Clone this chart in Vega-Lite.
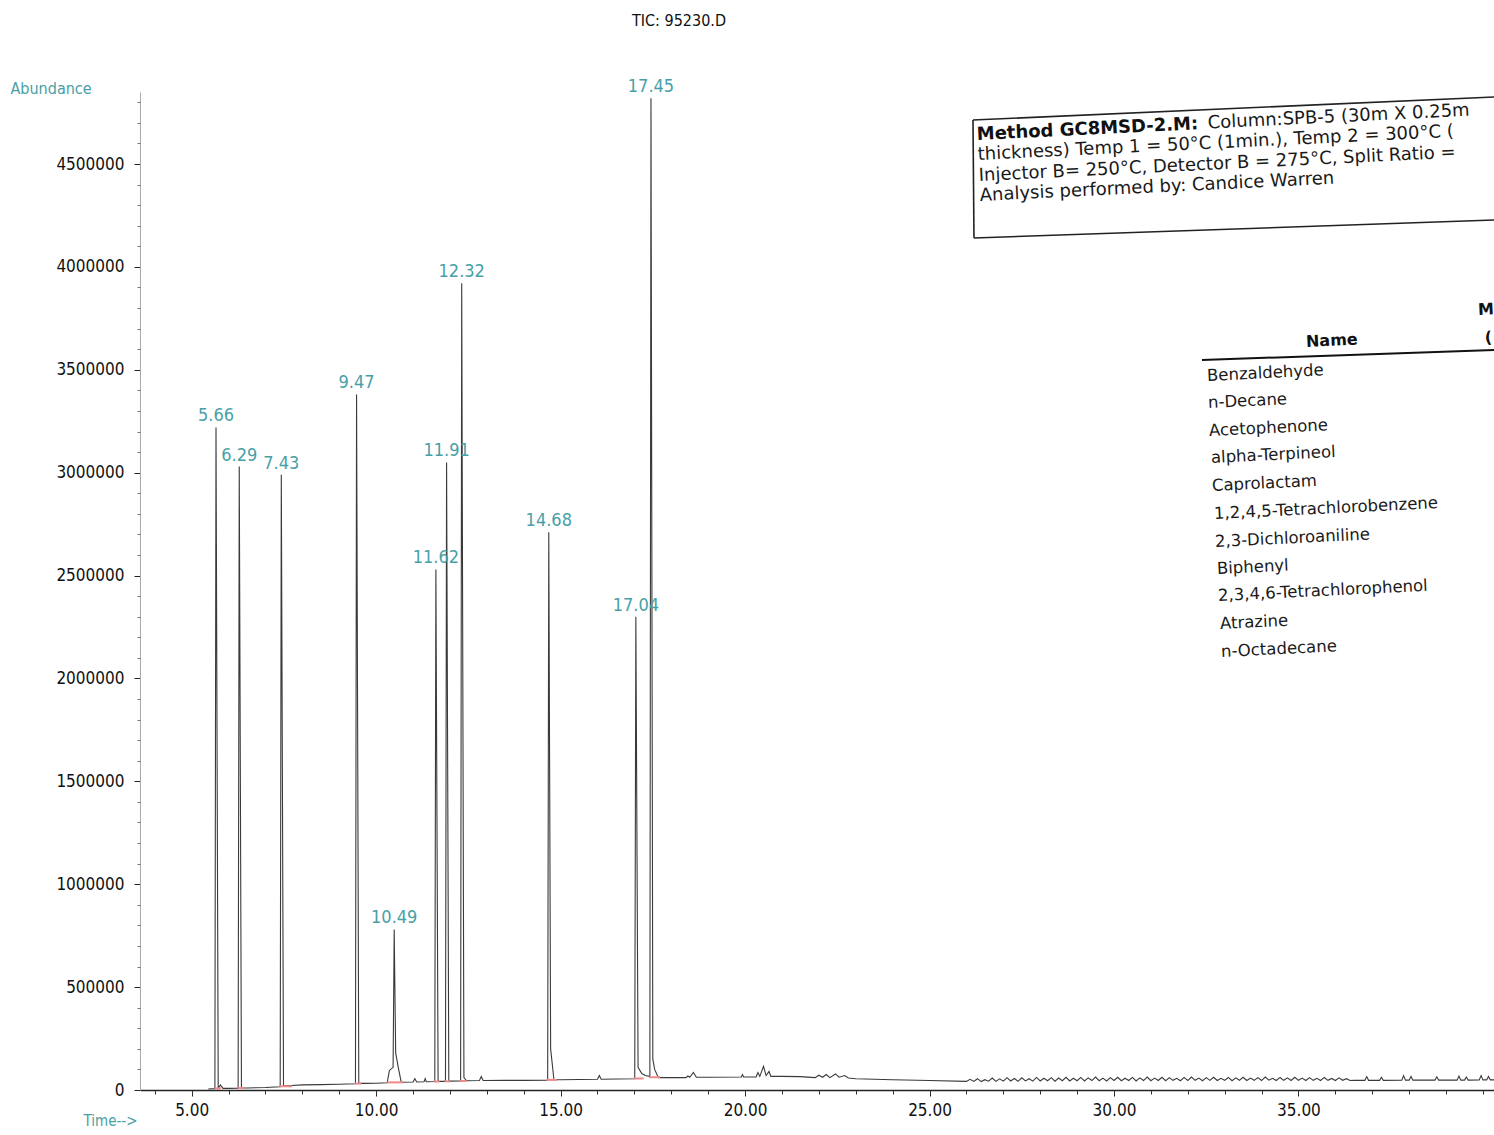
{
  "$schema": "https://vega.github.io/schema/vega-lite/v6.json",
  "autosize": {"type": "none"},
  "padding": {"left": 140, "top": 92, "right": 0, "bottom": 45},
  "width": 1354,
  "height": 998,
  "background": "white",
  "config": {"view": {"stroke": null}},
  "title": {
    "text": "TIC: 95230.D",
    "anchor": "middle",
    "dx": -138,
    "offset": 41,
    "baseline": "middle",
    "font": "DejaVu Sans Condensed, sans-serif",
    "fontSize": 16,
    "fontWeight": "normal",
    "color": "#111"
  },
  "datasets": {
    "trace": [
      {"time": 5.45, "abundance": 5000}, {"time": 5.55, "abundance": 6000}, {"time": 5.63, "abundance": 6000},
      {"time": 5.66, "abundance": 3220000}, {"time": 5.72, "abundance": 8000}, {"time": 5.78, "abundance": 25000},
      {"time": 5.85, "abundance": 8000}, {"time": 6.0, "abundance": 8000}, {"time": 6.26, "abundance": 9000},
      {"time": 6.29, "abundance": 3030000}, {"time": 6.35, "abundance": 10000}, {"time": 6.5, "abundance": 10000},
      {"time": 7.0, "abundance": 12000}, {"time": 7.4, "abundance": 16000}, {"time": 7.43, "abundance": 2990000},
      {"time": 7.49, "abundance": 20000}, {"time": 7.7, "abundance": 22000}, {"time": 8.0, "abundance": 25000},
      {"time": 8.5, "abundance": 26000}, {"time": 9.0, "abundance": 28000}, {"time": 9.44, "abundance": 30000},
      {"time": 9.47, "abundance": 3380000}, {"time": 9.53, "abundance": 32000}, {"time": 9.7, "abundance": 32000},
      {"time": 10.0, "abundance": 33000}, {"time": 10.3, "abundance": 35000}, {"time": 10.36, "abundance": 95000},
      {"time": 10.46, "abundance": 110000}, {"time": 10.49, "abundance": 780000}, {"time": 10.53, "abundance": 180000},
      {"time": 10.6, "abundance": 110000}, {"time": 10.68, "abundance": 38000}, {"time": 11.0, "abundance": 39000},
      {"time": 11.05, "abundance": 55000}, {"time": 11.1, "abundance": 39000}, {"time": 11.3, "abundance": 40000},
      {"time": 11.33, "abundance": 55000}, {"time": 11.36, "abundance": 40000}, {"time": 11.59, "abundance": 41000},
      {"time": 11.62, "abundance": 2530000}, {"time": 11.68, "abundance": 42000}, {"time": 11.88, "abundance": 42000},
      {"time": 11.91, "abundance": 3050000}, {"time": 11.97, "abundance": 43000}, {"time": 12.29, "abundance": 44000},
      {"time": 12.32, "abundance": 3920000}, {"time": 12.38, "abundance": 60000}, {"time": 12.45, "abundance": 45000},
      {"time": 12.8, "abundance": 46000}, {"time": 12.85, "abundance": 65000}, {"time": 12.9, "abundance": 46000},
      {"time": 13.5, "abundance": 47000}, {"time": 14.0, "abundance": 47000}, {"time": 14.65, "abundance": 48000},
      {"time": 14.68, "abundance": 2710000}, {"time": 14.73, "abundance": 200000}, {"time": 14.82, "abundance": 50000},
      {"time": 15.0, "abundance": 50000}, {"time": 16.0, "abundance": 52000}, {"time": 16.05, "abundance": 70000},
      {"time": 16.1, "abundance": 52000}, {"time": 17.01, "abundance": 55000}, {"time": 17.04, "abundance": 2300000},
      {"time": 17.1, "abundance": 110000}, {"time": 17.2, "abundance": 80000}, {"time": 17.3, "abundance": 70000},
      {"time": 17.42, "abundance": 65000}, {"time": 17.45, "abundance": 4820000}, {"time": 17.5, "abundance": 150000},
      {"time": 17.55, "abundance": 100000}, {"time": 17.65, "abundance": 60000}, {"time": 18.0, "abundance": 60000},
      {"time": 18.4, "abundance": 60000}, {"time": 18.45, "abundance": 68000}, {"time": 18.5, "abundance": 62000},
      {"time": 18.6, "abundance": 85000}, {"time": 18.68, "abundance": 62000}, {"time": 19.0, "abundance": 62000},
      {"time": 19.9, "abundance": 63000}, {"time": 19.93, "abundance": 75000}, {"time": 19.96, "abundance": 63000},
      {"time": 20.3, "abundance": 64000}, {"time": 20.35, "abundance": 85000}, {"time": 20.4, "abundance": 66000},
      {"time": 20.5, "abundance": 115000}, {"time": 20.57, "abundance": 70000}, {"time": 20.65, "abundance": 90000},
      {"time": 20.7, "abundance": 66000}, {"time": 21.0, "abundance": 66000}, {"time": 21.5, "abundance": 65000},
      {"time": 21.9, "abundance": 60000}, {"time": 22.0, "abundance": 72000}, {"time": 22.1, "abundance": 62000},
      {"time": 22.2, "abundance": 75000}, {"time": 22.3, "abundance": 60000}, {"time": 22.45, "abundance": 78000},
      {"time": 22.55, "abundance": 62000}, {"time": 22.7, "abundance": 70000}, {"time": 22.8, "abundance": 58000},
      {"time": 23.0, "abundance": 55000}, {"time": 24.0, "abundance": 50000}, {"time": 25.0, "abundance": 46000},
      {"time": 26.0, "abundance": 42000}, {"time": 26.1, "abundance": 52000}, {"time": 26.2, "abundance": 42000},
      {"time": 26.3, "abundance": 55000}, {"time": 26.4, "abundance": 41000}, {"time": 26.5, "abundance": 50000},
      {"time": 26.6, "abundance": 43000}, {"time": 26.7, "abundance": 58000}, {"time": 26.8, "abundance": 42000},
      {"time": 26.9, "abundance": 54000}, {"time": 27.0, "abundance": 43000}, {"time": 27.1, "abundance": 60000},
      {"time": 27.2, "abundance": 44000}, {"time": 27.3, "abundance": 56000}, {"time": 27.4, "abundance": 42000},
      {"time": 27.5, "abundance": 59000}, {"time": 27.6, "abundance": 44000}, {"time": 27.7, "abundance": 55000},
      {"time": 27.8, "abundance": 43000}, {"time": 27.9, "abundance": 61000}, {"time": 28.0, "abundance": 44000},
      {"time": 28.1, "abundance": 57000}, {"time": 28.2, "abundance": 45000}, {"time": 28.3, "abundance": 60000},
      {"time": 28.4, "abundance": 43000}, {"time": 28.5, "abundance": 58000}, {"time": 28.6, "abundance": 45000},
      {"time": 28.7, "abundance": 62000}, {"time": 28.8, "abundance": 44000}, {"time": 28.9, "abundance": 57000},
      {"time": 29.0, "abundance": 45000}, {"time": 29.1, "abundance": 61000}, {"time": 29.2, "abundance": 44000},
      {"time": 29.3, "abundance": 59000}, {"time": 29.4, "abundance": 46000}, {"time": 29.5, "abundance": 63000},
      {"time": 29.6, "abundance": 45000}, {"time": 29.7, "abundance": 58000}, {"time": 29.8, "abundance": 44000},
      {"time": 29.9, "abundance": 60000}, {"time": 30.0, "abundance": 46000}, {"time": 30.1, "abundance": 62000},
      {"time": 30.2, "abundance": 45000}, {"time": 30.3, "abundance": 57000}, {"time": 30.4, "abundance": 46000},
      {"time": 30.5, "abundance": 61000}, {"time": 30.6, "abundance": 44000}, {"time": 30.7, "abundance": 59000},
      {"time": 30.8, "abundance": 46000}, {"time": 30.9, "abundance": 63000}, {"time": 31.0, "abundance": 45000},
      {"time": 31.1, "abundance": 58000}, {"time": 31.2, "abundance": 46000}, {"time": 31.3, "abundance": 62000},
      {"time": 31.4, "abundance": 45000}, {"time": 31.5, "abundance": 60000}, {"time": 31.6, "abundance": 47000},
      {"time": 31.7, "abundance": 57000}, {"time": 31.8, "abundance": 45000}, {"time": 31.9, "abundance": 61000},
      {"time": 32.0, "abundance": 46000}, {"time": 32.1, "abundance": 63000}, {"time": 32.2, "abundance": 47000},
      {"time": 32.3, "abundance": 58000}, {"time": 32.4, "abundance": 45000}, {"time": 32.5, "abundance": 60000},
      {"time": 32.6, "abundance": 47000}, {"time": 32.7, "abundance": 62000}, {"time": 32.8, "abundance": 46000},
      {"time": 32.9, "abundance": 57000}, {"time": 33.0, "abundance": 47000}, {"time": 33.1, "abundance": 61000},
      {"time": 33.2, "abundance": 45000}, {"time": 33.3, "abundance": 59000}, {"time": 33.4, "abundance": 47000},
      {"time": 33.5, "abundance": 62000}, {"time": 33.6, "abundance": 46000}, {"time": 33.7, "abundance": 58000},
      {"time": 33.8, "abundance": 47000}, {"time": 33.9, "abundance": 60000}, {"time": 34.0, "abundance": 46000},
      {"time": 34.1, "abundance": 63000}, {"time": 34.2, "abundance": 48000}, {"time": 34.3, "abundance": 57000},
      {"time": 34.4, "abundance": 46000}, {"time": 34.5, "abundance": 61000}, {"time": 34.6, "abundance": 47000},
      {"time": 34.7, "abundance": 59000}, {"time": 34.8, "abundance": 46000}, {"time": 34.9, "abundance": 62000},
      {"time": 35.0, "abundance": 47000}, {"time": 35.1, "abundance": 58000}, {"time": 35.2, "abundance": 46000},
      {"time": 35.3, "abundance": 60000}, {"time": 35.4, "abundance": 47000}, {"time": 35.5, "abundance": 57000},
      {"time": 35.6, "abundance": 46000}, {"time": 35.7, "abundance": 61000}, {"time": 35.8, "abundance": 47000},
      {"time": 35.9, "abundance": 56000}, {"time": 36.0, "abundance": 46000}, {"time": 36.1, "abundance": 59000},
      {"time": 36.2, "abundance": 47000}, {"time": 36.3, "abundance": 55000}, {"time": 36.4, "abundance": 46000},
      {"time": 36.5, "abundance": 47000}, {"time": 36.8, "abundance": 47000}, {"time": 36.85, "abundance": 65000},
      {"time": 36.9, "abundance": 47000}, {"time": 37.2, "abundance": 47000}, {"time": 37.25, "abundance": 62000},
      {"time": 37.3, "abundance": 47000}, {"time": 37.8, "abundance": 48000}, {"time": 37.85, "abundance": 70000},
      {"time": 37.9, "abundance": 48000}, {"time": 38.0, "abundance": 48000}, {"time": 38.05, "abundance": 66000},
      {"time": 38.1, "abundance": 48000}, {"time": 38.7, "abundance": 48000}, {"time": 38.75, "abundance": 64000},
      {"time": 38.8, "abundance": 48000}, {"time": 39.3, "abundance": 48000}, {"time": 39.35, "abundance": 68000},
      {"time": 39.4, "abundance": 48000}, {"time": 39.5, "abundance": 48000}, {"time": 39.55, "abundance": 63000},
      {"time": 39.6, "abundance": 48000}, {"time": 39.9, "abundance": 49000}, {"time": 39.95, "abundance": 70000},
      {"time": 40.0, "abundance": 49000}, {"time": 40.1, "abundance": 49000}, {"time": 40.15, "abundance": 66000},
      {"time": 40.2, "abundance": 49000}, {"time": 40.3, "abundance": 49000}
    ],
    "peaks": [
      {"time": 5.66, "abundance": 3220000, "label": "5.66"},
      {"time": 6.29, "abundance": 3030000, "label": "6.29"},
      {"time": 7.43, "abundance": 2990000, "label": "7.43"},
      {"time": 9.47, "abundance": 3380000, "label": "9.47"},
      {"time": 10.49, "abundance": 780000, "label": "10.49"},
      {"time": 11.62, "abundance": 2530000, "label": "11.62"},
      {"time": 11.91, "abundance": 3050000, "label": "11.91"},
      {"time": 12.32, "abundance": 3920000, "label": "12.32"},
      {"time": 14.68, "abundance": 2710000, "label": "14.68"},
      {"time": 17.04, "abundance": 2300000, "label": "17.04"},
      {"time": 17.45, "abundance": 4820000, "label": "17.45"}
    ],
    "integration": [
      {"start": 5.62, "end": 5.8, "abundance": 8000},
      {"start": 6.25, "end": 6.4, "abundance": 10000},
      {"start": 7.38, "end": 7.72, "abundance": 18000},
      {"start": 9.42, "end": 9.6, "abundance": 31000},
      {"start": 10.3, "end": 10.72, "abundance": 37000},
      {"start": 11.57, "end": 11.72, "abundance": 41000},
      {"start": 11.86, "end": 12.0, "abundance": 42000},
      {"start": 12.27, "end": 12.45, "abundance": 44000},
      {"start": 14.62, "end": 14.9, "abundance": 49000},
      {"start": 16.98, "end": 17.25, "abundance": 56000},
      {"start": 17.4, "end": 17.7, "abundance": 62000}
    ],
    "boxlines": [
      {"t1": 26.178, "a1": 4713900, "t2": 40.3, "a2": 4825700},
      {"t1": 26.205, "a1": 4140500, "t2": 40.3, "a2": 4227900},
      {"t1": 26.178, "a1": 4713900, "t2": 26.205, "a2": 4140500}
    ],
    "underline": [
      {"t1": 32.385, "a1": 3547600, "t2": 40.3, "a2": 3596200}
    ],
    "boldleft": [
      {"time": 26.287, "abundance": 4616700, "text": "Method GC8MSD-2.M:"}
    ],
    "boxtext": [
      {"time": 32.548, "abundance": 4672600, "text": "Column:SPB-5 (30m X 0.25m"},
      {"time": 26.314, "abundance": 4519500, "text": "thickness) Temp 1 = 50°C (1min.), Temp 2 = 300°C ("},
      {"time": 26.341, "abundance": 4417500, "text": "Injector B= 250°C, Detector B = 275°C, Split Ratio ="},
      {"time": 26.368, "abundance": 4320300, "text": "Analysis performed by: Candice Warren"}
    ],
    "header": [
      {"time": 35.204, "abundance": 3635100, "text": "Name"},
      {"time": 39.866, "abundance": 3790600, "text": "M"},
      {"time": 40.05, "abundance": 3654500, "text": "("}
    ],
    "compounds": [
      {"time": 32.521, "abundance": 3469800, "name": "Benzaldehyde"},
      {"time": 32.548, "abundance": 3338600, "name": "n-Decane"},
      {"time": 32.575, "abundance": 3202500, "name": "Acetophenone"},
      {"time": 32.629, "abundance": 3071300, "name": "alpha-Terpineol"},
      {"time": 32.656, "abundance": 2935300, "name": "Caprolactam"},
      {"time": 32.71, "abundance": 2799200, "name": "1,2,4,5-Tetrachlorobenzene"},
      {"time": 32.737, "abundance": 2663100, "name": "2,3-Dichloroaniline"},
      {"time": 32.791, "abundance": 2531900, "name": "Biphenyl"},
      {"time": 32.819, "abundance": 2400700, "name": "2,3,4,6-Tetrachlorophenol"},
      {"time": 32.873, "abundance": 2264600, "name": "Atrazine"},
      {"time": 32.9, "abundance": 2128600, "name": "n-Octadecane"}
    ]
  },
  "resolve": {"axis": {"x": "independent", "y": "independent"}},
  "layer": [
    {
      "data": {"name": "trace"},
      "mark": {"type": "line", "color": "#3a3a3a", "strokeWidth": 1.1, "interpolate": "linear"},
      "encoding": {
        "x": {
          "field": "time", "type": "quantitative",
          "scale": {"domain": [3.6, 40.3], "nice": false, "zero": false},
          "axis": {
            "orient": "bottom",
            "values": [5, 10, 15, 20, 25, 30, 35],
            "format": ".2f",
            "grid": false,
            "labelFont": "DejaVu Sans Condensed, sans-serif",
            "labelFontSize": 17,
            "labelColor": "#111",
            "labelPadding": 6,
            "tickSize": 6,
            "tickColor": "#222",
            "domainColor": "#222",
            "domainWidth": 1.5,
            "title": "Time-->",
            "titleColor": "#48a0a6",
            "titleFont": "DejaVu Sans Condensed, sans-serif",
            "titleFontSize": 15,
            "titleFontWeight": "normal",
            "titleAlign": "right",
            "titleBaseline": "middle",
            "titleX": -3,
            "titleY": 30
          }
        },
        "y": {
          "field": "abundance", "type": "quantitative",
          "scale": {"domain": [0, 4850000], "nice": false},
          "axis": {
            "orient": "left",
            "values": [0, 500000, 1000000, 1500000, 2000000, 2500000, 3000000, 3500000, 4000000, 4500000],
            "format": "d",
            "grid": false,
            "labelFont": "DejaVu Sans Condensed, sans-serif",
            "labelFontSize": 17,
            "labelColor": "#111",
            "labelPadding": 10,
            "tickSize": 6,
            "tickColor": "#222",
            "domainColor": "#aaaaaa",
            "domainWidth": 1,
            "title": "Abundance",
            "titleColor": "#48a0a6",
            "titleFont": "DejaVu Sans Condensed, sans-serif",
            "titleFontSize": 16,
            "titleFontWeight": "normal",
            "titleAngle": 0,
            "titleAlign": "left",
            "titleBaseline": "middle",
            "titleX": -130,
            "titleY": -4
          }
        }
      }
    },
    {
      "data": {"name": "integration"},
      "mark": {"type": "rule", "color": "#f08a8a", "strokeWidth": 2},
      "encoding": {
        "x": {
          "field": "start", "type": "quantitative",
          "axis": {
            "orient": "bottom",
            "values": [4, 5, 6, 7, 8, 9, 10, 11, 12, 13, 14, 15, 16, 17, 18, 19, 20, 21, 22, 23, 24, 25, 26, 27, 28, 29, 30, 31, 32, 33, 34, 35, 36, 37, 38, 39, 40],
            "labels": false, "domain": false, "grid": false, "tickSize": 4, "tickColor": "#333", "title": null
          }
        },
        "x2": {"field": "end"},
        "y": {
          "field": "abundance", "type": "quantitative",
          "axis": {
            "orient": "left",
            "values": [100000, 200000, 300000, 400000, 600000, 700000, 800000, 900000, 1100000, 1200000, 1300000, 1400000, 1600000, 1700000, 1800000, 1900000, 2100000, 2200000, 2300000, 2400000, 2600000, 2700000, 2800000, 2900000, 3100000, 3200000, 3300000, 3400000, 3600000, 3700000, 3800000, 3900000, 4100000, 4200000, 4300000, 4400000, 4600000, 4700000, 4800000],
            "labels": false, "domain": false, "grid": false, "tickSize": 3, "tickColor": "#777", "title": null
          }
        }
      }
    },
    {
      "data": {"name": "peaks"},
      "mark": {"type": "text", "align": "center", "baseline": "alphabetic", "dy": -6, "color": "#48a0a6", "font": "DejaVu Sans Condensed, sans-serif", "fontSize": 18},
      "encoding": {
        "x": {"field": "time", "type": "quantitative", "axis": null},
        "y": {"field": "abundance", "type": "quantitative", "axis": null},
        "text": {"field": "label"}
      }
    },
    {
      "data": {"name": "boxlines"},
      "mark": {"type": "rule", "color": "#222", "strokeWidth": 1.6},
      "encoding": {
        "x": {"field": "t1", "type": "quantitative", "axis": null},
        "y": {"field": "a1", "type": "quantitative", "axis": null},
        "x2": {"field": "t2"},
        "y2": {"field": "a2"}
      }
    },
    {
      "data": {"name": "underline"},
      "mark": {"type": "rule", "color": "#111", "strokeWidth": 2},
      "encoding": {
        "x": {"field": "t1", "type": "quantitative", "axis": null},
        "y": {"field": "a1", "type": "quantitative", "axis": null},
        "x2": {"field": "t2"},
        "y2": {"field": "a2"}
      }
    },
    {
      "data": {"name": "boldleft"},
      "mark": {"type": "text", "align": "left", "baseline": "alphabetic", "angle": -2.8, "color": "#111", "font": "DejaVu Sans", "fontSize": 18, "fontWeight": "bold"},
      "encoding": {
        "x": {"field": "time", "type": "quantitative", "axis": null},
        "y": {"field": "abundance", "type": "quantitative", "axis": null},
        "text": {"field": "text"}
      }
    },
    {
      "data": {"name": "boxtext"},
      "mark": {"type": "text", "align": "left", "baseline": "alphabetic", "angle": -2.8, "color": "#1a1a1a", "font": "DejaVu Sans", "fontSize": 18},
      "encoding": {
        "x": {"field": "time", "type": "quantitative", "axis": null},
        "y": {"field": "abundance", "type": "quantitative", "axis": null},
        "text": {"field": "text"}
      }
    },
    {
      "data": {"name": "header"},
      "mark": {"type": "text", "align": "left", "baseline": "middle", "angle": -2.8, "color": "#111", "font": "DejaVu Sans", "fontSize": 16, "fontWeight": "bold"},
      "encoding": {
        "x": {"field": "time", "type": "quantitative", "axis": null},
        "y": {"field": "abundance", "type": "quantitative", "axis": null},
        "text": {"field": "text"}
      }
    },
    {
      "data": {"name": "compounds"},
      "mark": {"type": "text", "align": "left", "baseline": "middle", "angle": -2.8, "color": "#1a1a1a", "font": "DejaVu Sans", "fontSize": 16.5},
      "encoding": {
        "x": {"field": "time", "type": "quantitative", "axis": null},
        "y": {"field": "abundance", "type": "quantitative", "axis": null},
        "text": {"field": "name"}
      }
    }
  ]
}
